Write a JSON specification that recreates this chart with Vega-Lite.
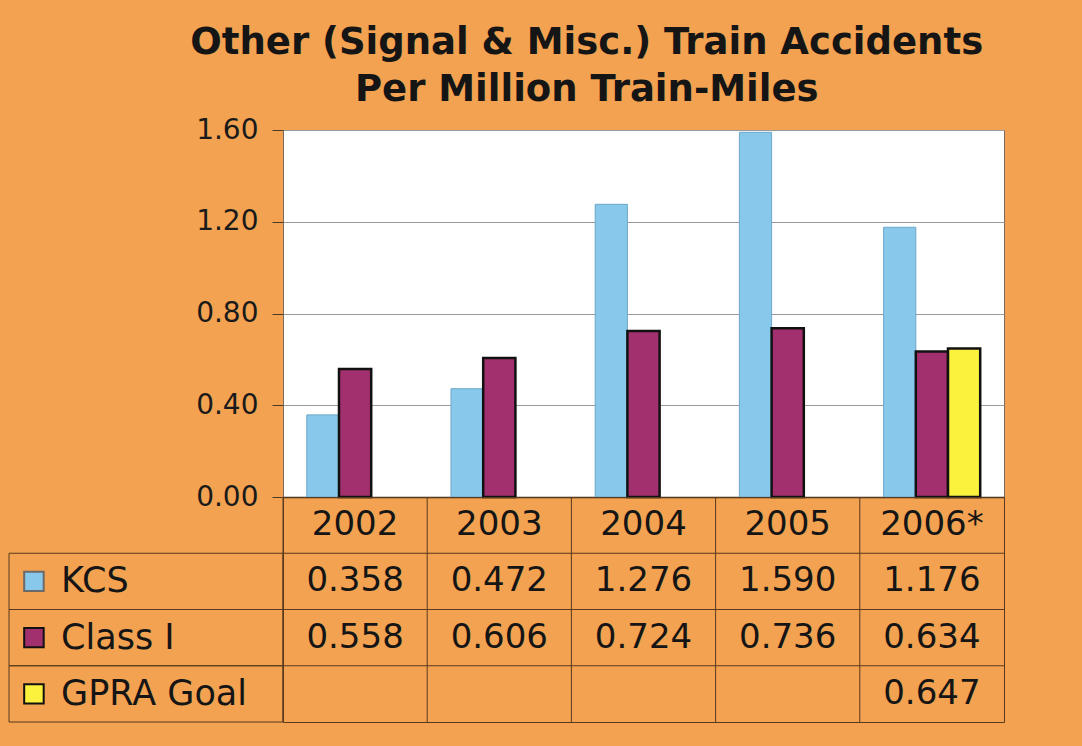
{
  "$schema": "https://vega.github.io/schema/vega-lite/v6.json",
  "background": "#F2A250",
  "padding": {"left": 8, "top": 23, "right": 79, "bottom": 27},
  "config": {
    "font": "DejaVu Sans",
    "view": {"stroke": null}
  },
  "title": {
    "text": ["Other (Signal & Misc.) Train Accidents", "Per Million Train-Miles"],
    "font": "DejaVu Sans",
    "fontSize": 37,
    "fontWeight": "bold",
    "color": "#151515",
    "lineHeight": 47,
    "anchor": "middle",
    "dx": 80,
    "offset": 7
  },
  "datasets": {
    "rates": [
      {"year": "2002", "series": "KCS", "value": 0.358},
      {"year": "2002", "series": "Class I", "value": 0.558},
      {"year": "2003", "series": "KCS", "value": 0.472},
      {"year": "2003", "series": "Class I", "value": 0.606},
      {"year": "2004", "series": "KCS", "value": 1.276},
      {"year": "2004", "series": "Class I", "value": 0.724},
      {"year": "2005", "series": "KCS", "value": 1.590},
      {"year": "2005", "series": "Class I", "value": 0.736},
      {"year": "2006*", "series": "KCS", "value": 1.176},
      {"year": "2006*", "series": "Class I", "value": 0.634},
      {"year": "2006*", "series": "GPRA Goal", "value": 0.647}
    ]
  },
  "columns": 2,
  "spacing": 0,
  "bounds": "flush",
  "resolve": {"scale": {"x": "independent", "y": "independent", "color": "independent", "stroke": "independent", "strokeWidth": "independent"}},
  "concat": [
    {
      "width": 274,
      "height": 367,
      "view": {"stroke": null},
      "data": {"values": []},
      "mark": {"type": "point", "opacity": 0},
      "encoding": {}
    },
    {
      "width": 721,
      "height": 367,
      "view": {"fill": "#FFFFFF", "stroke": "#7a6a5a", "strokeWidth": 1},
      "data": {"name": "rates"},
      "mark": {"type": "bar"},
      "encoding": {
        "x": {
          "field": "year", "type": "nominal", "sort": null,
          "scale": {"paddingInner": 0.33, "paddingOuter": 0.165},
          "axis": {"labels": false, "ticks": false, "title": null, "domain": true, "domainColor": "#3a2a1a", "domainWidth": 1.5}
        },
        "xOffset": {
          "field": "series", "type": "nominal",
          "scale": {"domain": ["KCS", "Class I", "GPRA Goal"], "paddingInner": 0, "paddingOuter": 0}
        },
        "y": {
          "field": "value", "type": "quantitative", "stack": null,
          "scale": {"domain": [0, 1.6], "nice": false},
          "axis": {
            "values": [0, 0.4, 0.8, 1.2, 1.6],
            "format": ".2f",
            "title": null,
            "domain": false,
            "grid": true,
            "gridColor": "#9a9a9a",
            "gridWidth": 1,
            "tickColor": "#4a3a2a",
            "tickSize": 11,
            "labelPadding": 14,
            "labelFontSize": 28,
            "labelColor": "#1a1a1a",
            "labelFont": "DejaVu Sans"
          }
        },
        "color": {
          "field": "series", "type": "nominal",
          "scale": {"domain": ["KCS", "Class I", "GPRA Goal"], "range": ["#88C8EA", "#A3306E", "#FAF23C"]},
          "legend": null
        },
        "stroke": {
          "field": "series", "type": "nominal",
          "scale": {"domain": ["KCS", "Class I", "GPRA Goal"], "range": ["#6CA6C8", "#111111", "#111111"]},
          "legend": null
        },
        "strokeWidth": {"condition": {"test": "datum.series === 'KCS'", "value": 1}, "value": 2.5}
      }
    },
    {
      "width": 274,
      "height": 225,
      "view": {"stroke": null},
      "data": {"name": "rates"},
      "transform": [{"filter": "datum.year === '2006*'"}],
      "encoding": {
        "y": {
          "field": "series", "type": "nominal",
          "scale": {"domain": ["year", "KCS", "Class I", "GPRA Goal"], "paddingInner": 0, "paddingOuter": 0},
          "axis": null
        }
      },
      "layer": [
        {
          "mark": {"type": "rect", "fill": "transparent", "stroke": "#5a3a1e", "strokeWidth": 1},
          "encoding": {
            "x": {"datum": 0, "type": "quantitative", "scale": {"domain": [0, 1]}, "axis": null},
            "x2": {"datum": 1}
          }
        },
        {
          "mark": {"type": "point", "shape": "square", "filled": true, "size": 380, "opacity": 1, "strokeOpacity": 1},
          "encoding": {
            "x": {"datum": 0.091, "type": "quantitative"},
            "color": {
              "field": "series", "type": "nominal",
              "scale": {"domain": ["KCS", "Class I", "GPRA Goal"], "range": ["#88C8EA", "#A3306E", "#FAF23C"]},
              "legend": null
            },
            "stroke": {
              "field": "series", "type": "nominal",
              "scale": {"domain": ["KCS", "Class I", "GPRA Goal"], "range": ["#6a6a6a", "#111111", "#111111"]},
              "legend": null
            },
            "strokeWidth": {"value": 2}
          }
        },
        {
          "mark": {"type": "text", "align": "left", "baseline": "middle", "fontSize": 35, "color": "#151515", "font": "DejaVu Sans"},
          "encoding": {
            "x": {"datum": 0.19, "type": "quantitative"},
            "text": {"field": "series"}
          }
        }
      ]
    },
    {
      "width": 721,
      "height": 225,
      "view": {"stroke": "#5a3a1e", "strokeWidth": 1},
      "data": {"name": "rates"},
      "encoding": {
        "x": {
          "field": "year", "type": "nominal", "sort": null,
          "scale": {"domain": ["2002", "2003", "2004", "2005", "2006*"], "paddingInner": 0, "paddingOuter": 0},
          "axis": null
        },
        "y": {
          "field": "series", "type": "nominal",
          "scale": {"domain": ["year", "KCS", "Class I", "GPRA Goal"], "paddingInner": 0, "paddingOuter": 0},
          "axis": null
        }
      },
      "layer": [
        {
          "transform": [{"filter": "datum.series === 'KCS'"}],
          "mark": {"type": "rule", "color": "#5a3a1e", "strokeWidth": 1},
          "encoding": {
            "x": {"field": "year", "type": "nominal", "bandPosition": 0},
            "y": null
          }
        },
        {
          "transform": [{"filter": "datum.year === '2006*'"}],
          "mark": {"type": "rule", "color": "#5a3a1e", "strokeWidth": 1},
          "encoding": {
            "x": null,
            "y": {"field": "series", "type": "nominal", "bandPosition": 0}
          }
        },
        {
          "transform": [{"filter": "datum.series === 'KCS'"}],
          "mark": {"type": "text", "baseline": "middle", "fontSize": 34, "color": "#151515", "font": "DejaVu Sans"},
          "encoding": {
            "y": {"datum": "year", "type": "nominal"},
            "text": {"field": "year"}
          }
        },
        {
          "mark": {"type": "text", "baseline": "middle", "fontSize": 34, "color": "#151515", "font": "DejaVu Sans"},
          "encoding": {
            "text": {"field": "value", "type": "quantitative", "format": ".3f"}
          }
        }
      ]
    }
  ]
}
